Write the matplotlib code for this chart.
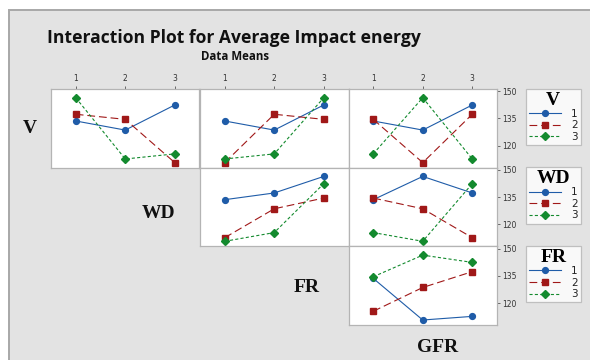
import pandas as pd
import matplotlib.pyplot as plt
from matplotlib.lines import Line2D
from matplotlib.patches import Rectangle

# L9 orthogonal array runs and measured impact energy
V = [1, 1, 1, 2, 2, 2, 3, 3, 3]
WD = [1, 2, 3, 1, 2, 3, 1, 2, 3]
FR = [1, 2, 3, 2, 3, 1, 3, 1, 2]
GFR = [1, 2, 3, 3, 1, 2, 2, 3, 1]
impact = [133.6, 128.6, 142.4, 137.3, 134.5, 110.7, 146.4, 112.7, 115.5]

factors = ['V', 'WD', 'FR', 'GFR']
levels = [1, 2, 3]
y_ticks = [120, 135, 150]

df = pd.DataFrame({'V': V, 'WD': WD, 'FR': FR, 'GFR': GFR, 'impact': impact})

W, H = 590, 360
fig = plt.figure(figsize=(W / 100, H / 100), dpi=100)
fig.patch.set_facecolor('white')

# grey work area with frame line (left and top edges only visible)
fig.add_artist(Rectangle((9 / W, -0.1), 1.2, 1.1 - 10 / H, transform=fig.transFigure,
                         facecolor='#e3e3e3', edgecolor='#a8a8a8', lw=1.4, zorder=-10))

styles = {
    1: dict(color='#1f5ca8', marker='o', ls='-', ms=4.2),
    2: dict(color='#a01818', marker='s', ls=(0, (7, 3.5)), ms=4.2),
    3: dict(color='#138a2e', marker='D', ls=(0, (2.8, 2)), ms=3.8),
}

def px_axes(left, top, w, h):
    return fig.add_axes([left / W, 1 - (top + h) / H, w / W, h / H])

col_left = [51, 200, 348.5]
row_top = [89, 167.7, 246.4]
pw, ph = 148.5, 78.7

serif = dict(family='Liberation Serif', weight='bold')

for r in range(3):
    for c in range(r, 3):
        ax = px_axes(col_left[c], row_top[r], pw, ph)
        line_f = factors[r]
        x_f = factors[c + 1]
        means = df.groupby([line_f, x_f])['impact'].mean().unstack()
        for lv in levels:
            st = styles[lv]
            ax.plot(means.columns, means.loc[lv].values, color=st['color'], ls=st['ls'],
                    lw=0.8, marker=st['marker'], ms=st['ms'], mec=st['color'])
        ax.set_xlim(0.5, 3.5)
        ax.set_ylim(107.9, 151.2)
        ax.set_facecolor('white')
        for sp in ax.spines.values():
            sp.set_color('#b4b4b4')
            sp.set_linewidth(0.9)
        ax.set_xticks(levels)
        ax.set_yticks(y_ticks)
        ax.tick_params(colors='#555555', labelcolor='#333333', labelsize=5.5,
                       length=2.5, width=0.6, pad=1.5)
        if r == 0:
            ax.xaxis.tick_top()
        else:
            ax.set_xticks([])
        if c == 2:
            ax.yaxis.tick_right()
        else:
            ax.set_yticks([])

    # legend for this row's factor
    handles = [Line2D([], [], color=styles[lv]['color'], ls=styles[lv]['ls'], lw=0.8,
                      marker=styles[lv]['marker'], ms=styles[lv]['ms']) for lv in levels]
    leg = fig.legend(handles, [str(lv) for lv in levels], loc='upper left',
                     bbox_to_anchor=(526 / W, 1 - (row_top[r] - 0.5) / H),
                     frameon=True, fancybox=False, edgecolor='#b4b4b4',
                     fontsize=7.5, handlelength=3.1, handletextpad=0.9,
                     labelspacing=0.15, borderpad=0.3, borderaxespad=0,
                     title=factors[r], title_fontproperties=dict(serif, size=14))
    leg.get_frame().set_linewidth(0.9)
    leg._legend_box.sep = 0
    for t in leg.get_texts():
        t.set_color('#222222')

# factor names along the diagonal
diag_pos = [(30, 128), (159, 213), (307, 287), (438, 348)]
for name, (x, y) in zip(factors, diag_pos):
    fig.text(x / W, 1 - y / H, name, ha='center', va='center', fontsize=14,
             color='#111111', **serif)

fig.text(234 / W, 1 - 38 / H, 'Interaction Plot for Average Impact energy',
         ha='center', va='center', fontsize=12.6, fontweight='bold',
         family='Open Sans', color='#111111')
fig.text(235 / W, 1 - 56 / H, 'Data Means', ha='center', va='center',
         fontsize=8.3, fontweight='bold', family='Open Sans', color='#111111')

fig.savefig('out.png', dpi=100)
